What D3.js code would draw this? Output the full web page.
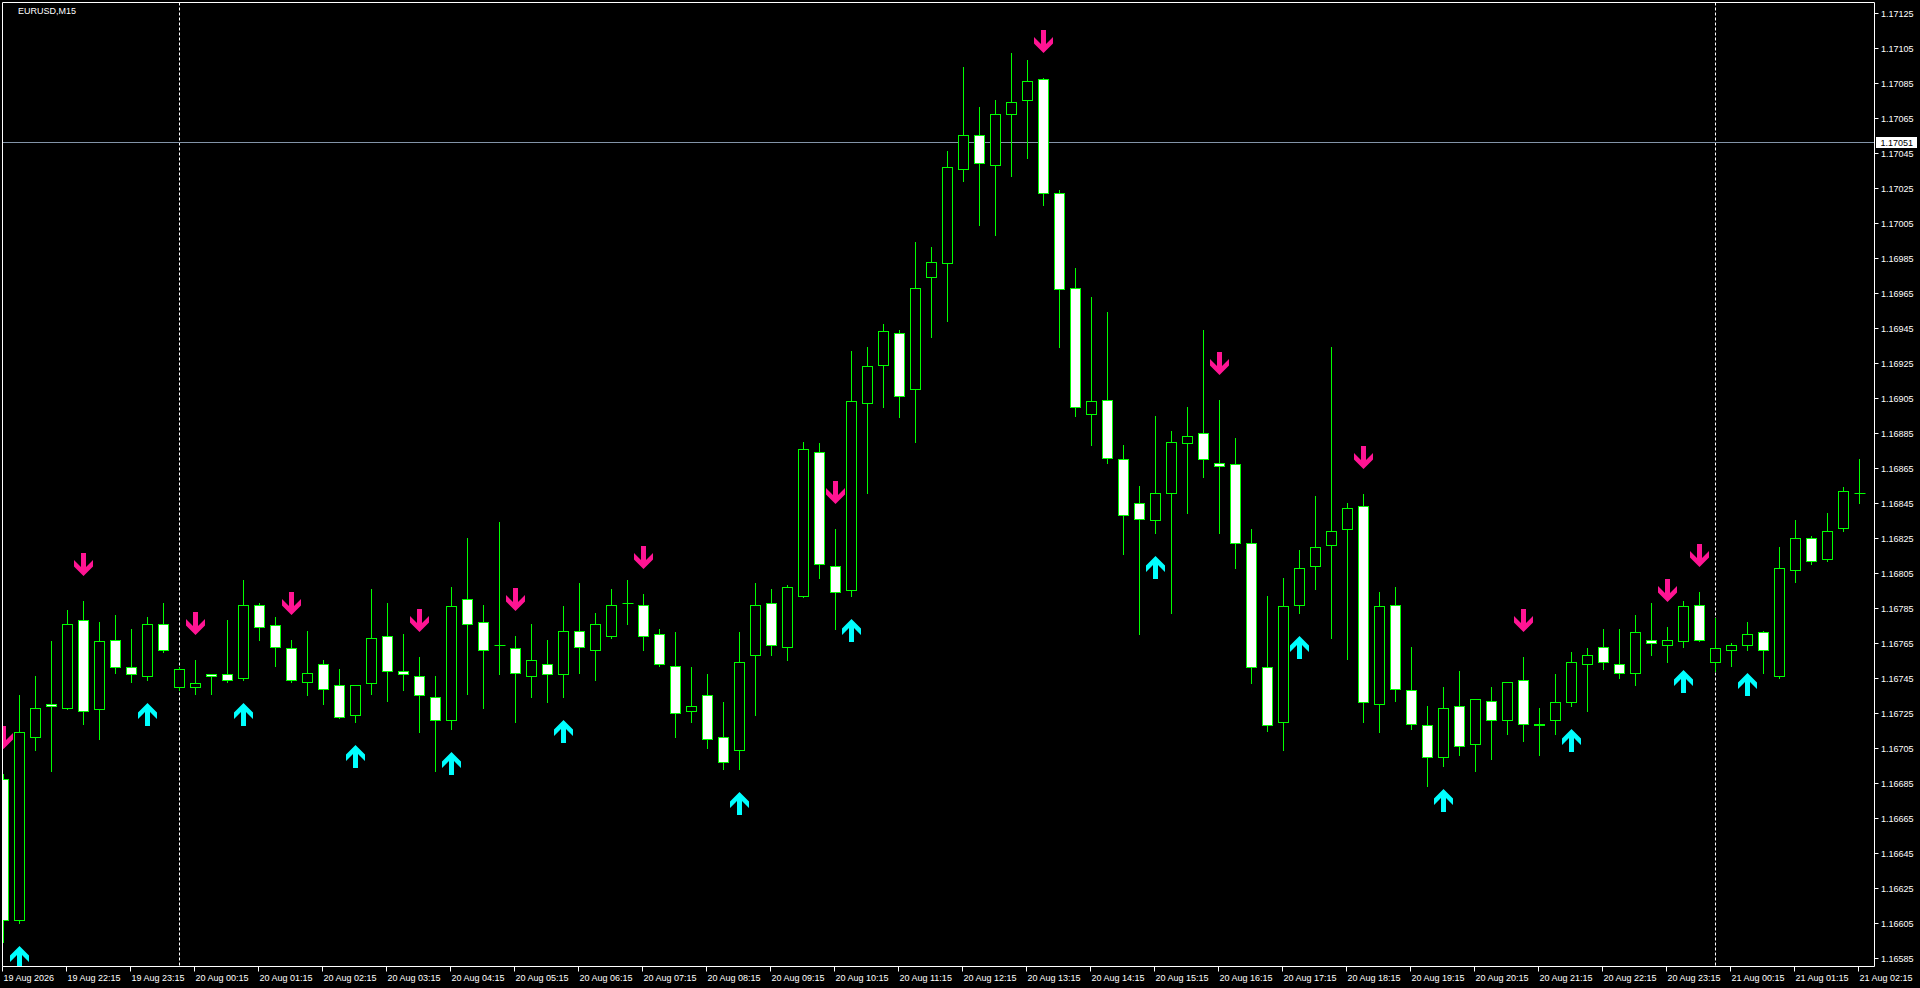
<!DOCTYPE html>
<html><head><meta charset="utf-8">
<script src="https://cdn.jsdelivr.net/npm/d3@7"></script>
<style>html,body{margin:0;padding:0;background:#000;overflow:hidden}</style>
</head><body>
<svg id="c" width="1920" height="988"></svg>
<script>
const symbolLabel = "EURUSD,M15";
const opens = [
1.16687,1.16607,1.16711,1.16730,1.16728,1.16778,1.16727,1.16767,1.16751,1.16746,
1.16776,1.16740,1.16740,1.16747,1.16747,1.16745,1.16787,1.16775,1.16762,1.16743,
1.16753,1.16741,1.16724,1.16742,1.16769,1.16749,1.16746,1.16734,1.16721,1.16790,
1.16777,1.16764,1.16762,1.16746,1.16753,1.16747,1.16772,1.16761,1.16769,1.16788,
1.16787,1.16770,1.16752,1.16726,1.16735,1.16711,1.16704,1.16758,1.16788,1.16763,
1.16792,1.16874,1.16809,1.16795,1.16902,1.16924,1.16942,1.16910,1.16974,1.16982,
1.17036,1.17055,1.17038,1.17067,1.17075,1.17087,1.17022,1.16968,1.16896,1.16904,
1.16870,1.16845,1.16835,1.16851,1.16879,1.16885,1.16868,1.16867,1.16822,1.16751,
1.16720,1.16787,1.16809,1.16821,1.16830,1.16843,1.16730,1.16787,1.16738,1.16718,
1.16700,1.16729,1.16707,1.16732,1.16721,1.16744,1.16719,1.16721,1.16731,1.16753,
1.16763,1.16753,1.16748,1.16767,1.16764,1.16766,1.16787,1.16754,1.16761,1.16764,
1.16771,1.16746,1.16807,1.16825,1.16813,1.16831,1.16851];
const highs = [
1.16690,1.16735,1.16746,1.16766,1.16784,1.16789,1.16777,1.16781,1.16773,1.16780,
1.16788,1.16751,1.16755,1.16747,1.16778,1.16801,1.16788,1.16780,1.16767,1.16772,
1.16755,1.16750,1.16741,1.16796,1.16788,1.16770,1.16757,1.16746,1.16797,1.16825,
1.16787,1.16834,1.16769,1.16776,1.16767,1.16786,1.16799,1.16782,1.16796,1.16801,
1.16793,1.16773,1.16771,1.16751,1.16747,1.16731,1.16771,1.16799,1.16796,1.16798,
1.16880,1.16879,1.16830,1.16932,1.16934,1.16947,1.16944,1.16994,1.16991,1.17046,
1.17094,1.17071,1.17075,1.17102,1.17098,1.17088,1.17024,1.16979,1.16963,1.16954,
1.16878,1.16855,1.16895,1.16886,1.16900,1.16944,1.16904,1.16882,1.16830,1.16792,
1.16802,1.16818,1.16849,1.16934,1.16845,1.16850,1.16794,1.16797,1.16763,1.16729,
1.16740,1.16749,1.16733,1.16740,1.16743,1.16757,1.16728,1.16747,1.16760,1.16762,
1.16773,1.16773,1.16781,1.16788,1.16774,1.16789,1.16794,1.16779,1.16765,1.16777,
1.16772,1.16820,1.16835,1.16826,1.16839,1.16854,1.16870];
const lows = [
1.16594,1.16605,1.16704,1.16692,1.16727,1.16719,1.16710,1.16748,1.16743,1.16744,
1.16760,1.16738,1.16736,1.16736,1.16743,1.16744,1.16767,1.16752,1.16743,1.16735,
1.16730,1.16722,1.16720,1.16736,1.16732,1.16738,1.16714,1.16692,1.16716,1.16736,
1.16728,1.16747,1.16720,1.16734,1.16731,1.16734,1.16748,1.16744,1.16768,1.16776,
1.16761,1.16752,1.16711,1.16720,1.16705,1.16693,1.16693,1.16724,1.16758,1.16755,
1.16791,1.16802,1.16773,1.16792,1.16851,1.16900,1.16894,1.16880,1.16940,1.16949,
1.17029,1.17004,1.16998,1.17032,1.17042,1.17015,1.16934,1.16895,1.16878,1.16868,
1.16816,1.16770,1.16828,1.16782,1.16839,1.16860,1.16828,1.16808,1.16742,1.16715,
1.16704,1.16782,1.16796,1.16768,1.16756,1.16720,1.16714,1.16732,1.16716,1.16683,
1.16695,1.16701,1.16692,1.16699,1.16713,1.16709,1.16701,1.16713,1.16729,1.16726,
1.16750,1.16745,1.16741,1.16758,1.16754,1.16763,1.16766,1.16749,1.16752,1.16761,
1.16748,1.16745,1.16800,1.16810,1.16812,1.16829,1.16845];
const closes = [
1.16607,1.16714,1.16728,1.16729,1.16776,1.16726,1.16766,1.16751,1.16747,1.16776,
1.16761,1.16750,1.16742,1.16746,1.16744,1.16787,1.16774,1.16763,1.16744,1.16748,
1.16739,1.16723,1.16741,1.16768,1.16749,1.16747,1.16735,1.16721,1.16786,1.16776,
1.16761,1.16764,1.16748,1.16755,1.16747,1.16772,1.16763,1.16776,1.16787,1.16788,
1.16769,1.16753,1.16725,1.16729,1.16710,1.16697,1.16754,1.16787,1.16764,1.16797,
1.16876,1.16810,1.16794,1.16903,1.16923,1.16943,1.16906,1.16968,1.16983,1.17037,
1.17055,1.17039,1.17067,1.17074,1.17086,1.17022,1.16967,1.16900,1.16903,1.16871,
1.16838,1.16836,1.16851,1.16880,1.16883,1.16870,1.16866,1.16822,1.16751,1.16718,
1.16786,1.16808,1.16820,1.16829,1.16842,1.16731,1.16786,1.16739,1.16719,1.16700,
1.16728,1.16706,1.16733,1.16721,1.16743,1.16719,1.16718,1.16731,1.16754,1.16758,
1.16754,1.16748,1.16771,1.16765,1.16767,1.16786,1.16767,1.16762,1.16764,1.16770,
1.16761,1.16808,1.16825,1.16812,1.16829,1.16852,1.16851];
// bar indices carrying signals
const buySignals  = [1,9,15,22,28,35,46,53,72,81,90,98,105,109];
const sellSignals = [0,5,12,18,26,32,40,52,65,76,85,95,104,106];
// bar indices of day separators (00:00)
const daySeparators = [11,107];
// time labels, one every 4 bars starting at bar 0
const timeLabels = ["19 Aug 2026","19 Aug 22:15","19 Aug 23:15","20 Aug 00:15","20 Aug 01:15","20 Aug 02:15",
"20 Aug 03:15","20 Aug 04:15","20 Aug 05:15","20 Aug 06:15","20 Aug 07:15","20 Aug 08:15","20 Aug 09:15",
"20 Aug 10:15","20 Aug 11:15","20 Aug 12:15","20 Aug 13:15","20 Aug 14:15","20 Aug 15:15","20 Aug 16:15",
"20 Aug 17:15","20 Aug 18:15","20 Aug 19:15","20 Aug 20:15","20 Aug 21:15","20 Aug 22:15","20 Aug 23:15",
"21 Aug 00:15","21 Aug 01:15","21 Aug 02:15"];
const labelStep = 4;
const priceTicks = [1.17125,1.17105,1.17085,1.17065,1.17045,1.17025,1.17005,1.16985,1.16965,1.16945,
1.16925,1.16905,1.16885,1.16865,1.16845,1.16825,1.16805,1.16785,1.16765,1.16745,1.16725,1.16705,
1.16685,1.16665,1.16645,1.16625,1.16605,1.16585];
const lineLevel = 1.17051;

const svg = d3.select('#c');
const n = opens.length;
const frame = {l:2.5, t:2.5, r:1874.5, b:966.5};
const x = d3.scaleLinear().domain([0, n-1]).range([3.5, 3.5 + 16*(n-1)]);
const y = d3.scaleLinear().domain([1.16585, 1.17125]).range([958, 13]);
const green = '#00ff00';
const font = '"Liberation Sans", Arial, sans-serif';

svg.append('rect').attr('width',1920).attr('height',988).attr('fill','#000');
svg.append('defs').append('clipPath').attr('id','clip').append('rect')
  .attr('x',3).attr('y',3).attr('width',frame.r-3).attr('height',frame.b-3);
const g = svg.append('g').attr('clip-path','url(#clip)');

// day separators
g.selectAll('line.sep').data(daySeparators).join('line').attr('class','sep')
  .attr('x1',d=>x(d)).attr('x2',d=>x(d)).attr('y1',frame.t).attr('y2',frame.b)
  .attr('stroke','#fff').attr('stroke-width',1).attr('stroke-dasharray','3,2');

// horizontal level line
const ly = Math.round(y(lineLevel))+0.5;
g.append('line').attr('x1',frame.l).attr('x2',frame.r).attr('y1',ly).attr('y2',ly)
  .attr('stroke','#8394a8').attr('stroke-width',1);

const bars = d3.range(n).map(i=>({i,o:opens[i],h:highs[i],l:lows[i],c:closes[i]}));
// wicks
g.selectAll('line.wick').data(bars).join('line').attr('class','wick')
  .attr('x1',d=>x(d.i)).attr('x2',d=>x(d.i))
  .attr('y1',d=>Math.round(y(d.h))).attr('y2',d=>Math.round(y(d.l))+1)
  .attr('stroke',green).attr('stroke-width',1);
// bodies
bars.forEach(d=>{
  const yt = Math.round(y(Math.max(d.o,d.c))), yb = Math.round(y(Math.min(d.o,d.c)));
  const cx = x(d.i);
  if (yb - yt < 1) {
    g.append('line').attr('x1',cx-5).attr('x2',cx+6).attr('y1',yt+0.5).attr('y2',yt+0.5)
      .attr('stroke',green).attr('stroke-width',1);
  } else {
    g.append('rect').attr('x',cx-5).attr('y',yt+0.5).attr('width',10).attr('height',yb-yt)
      .attr('fill', d.c < d.o ? '#fff' : '#000').attr('stroke',green).attr('stroke-width',1);
  }
});

// arrows
const downPath = "M-2.5,-23 L2.5,-23 L2.5,-9 L9.5,-16 L9.5,-9.5 L0,0 L-9.5,-9.5 L-9.5,-16 L-2.5,-9 Z";
const upPath = "M-2.5,24 L2.5,24 L2.5,10 L9.5,17 L9.5,10.5 L0,1 L-9.5,10.5 L-9.5,17 L-2.5,10 Z";
g.selectAll('path.sell').data(sellSignals).join('path').attr('class','sell')
  .attr('d',downPath).attr('fill','#ff1493')
  .attr('transform',d=>`translate(${x(d)},${Math.round(y(highs[d]))-25})`);
g.selectAll('path.buy').data(buySignals).join('path').attr('class','buy')
  .attr('d',upPath).attr('fill','#00ffff')
  .attr('transform',d=>`translate(${x(d)},${Math.round(y(lows[d]))+22})`);

// frame
svg.append('path').attr('d',`M${frame.l},${frame.b} V${frame.t} H${frame.r} V${frame.b} H${frame.l}`)
  .attr('fill','none').attr('stroke','#fff').attr('stroke-width',1);

// price axis
priceTicks.forEach(p=>{
  const ty = Math.round(y(p))+0.5;
  svg.append('line').attr('x1',frame.r).attr('x2',frame.r+4).attr('y1',ty).attr('y2',ty)
    .attr('stroke','#fff').attr('stroke-width',1);
  svg.append('text').attr('x',1881).attr('y',ty+3.5).text(p.toFixed(5))
    .attr('fill','#fff').attr('font-family',font).attr('font-size','9px');
});
// level label box
svg.append('rect').attr('x',1876).attr('y',ly-5.5).attr('width',41).attr('height',11).attr('fill','#fff');
svg.append('text').attr('x',1880.5).attr('y',ly+3.5).text(lineLevel.toFixed(5))
  .attr('fill','#000').attr('font-family',font).attr('font-size','9px');

// time axis
timeLabels.forEach((t,k)=>{
  const tx = x(k*labelStep);
  svg.append('line').attr('x1',tx-1).attr('x2',tx-1).attr('y1',frame.b).attr('y2',frame.b+5)
    .attr('stroke','#fff').attr('stroke-width',1);
  svg.append('text').attr('x',tx).attr('y',980.5).text(t)
    .attr('fill','#fff').attr('font-family',font).attr('font-size','9px');
});

// symbol label
svg.append('text').attr('x',18).attr('y',14).text(symbolLabel)
  .attr('fill','#fff').attr('font-family',font).attr('font-size','9px');
</script>
</body></html>
